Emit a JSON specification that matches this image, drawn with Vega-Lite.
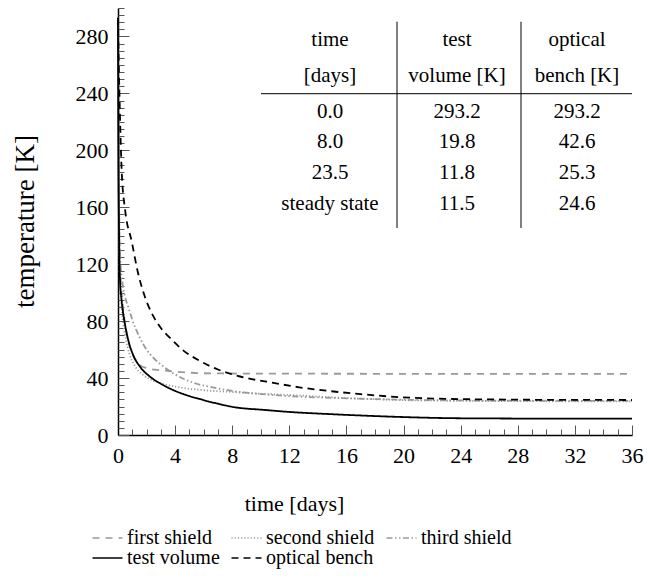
{
  "$schema": "https://vega.github.io/schema/vega-lite/v6.json",
  "width": 514,
  "height": 427,
  "autosize": {"type": "none"},
  "padding": {"left": 118, "top": 8, "right": 15, "bottom": 146},
  "background": "white",
  "config": {
    "font": "Liberation Serif",
    "view": {"stroke": null},
    "axis": {"grid": false, "labelFont": "Liberation Serif", "titleFont": "Liberation Serif"},
    "legend": {"labelFont": "Liberation Serif", "titleFont": "Liberation Serif"},
    "text": {"font": "Liberation Serif"}
  },
  "datasets": {
    "curves": [
      {"series": "first shield", "day": 0, "temp": 293.2},
      {"series": "first shield", "day": 0.03, "temp": 200},
      {"series": "first shield", "day": 0.08, "temp": 150},
      {"series": "first shield", "day": 0.15, "temp": 120},
      {"series": "first shield", "day": 0.3, "temp": 95},
      {"series": "first shield", "day": 0.5, "temp": 78},
      {"series": "first shield", "day": 0.8, "temp": 63},
      {"series": "first shield", "day": 1.1, "temp": 55},
      {"series": "first shield", "day": 1.5, "temp": 49.5},
      {"series": "first shield", "day": 2, "temp": 47},
      {"series": "first shield", "day": 3, "temp": 45.5},
      {"series": "first shield", "day": 4, "temp": 44.5},
      {"series": "first shield", "day": 5, "temp": 43.8},
      {"series": "first shield", "day": 6, "temp": 43.4},
      {"series": "first shield", "day": 8, "temp": 43.2},
      {"series": "first shield", "day": 12, "temp": 43.1},
      {"series": "first shield", "day": 20, "temp": 43},
      {"series": "first shield", "day": 36, "temp": 43},
      {"series": "second shield", "day": 0, "temp": 293.2},
      {"series": "second shield", "day": 0.03, "temp": 190},
      {"series": "second shield", "day": 0.08, "temp": 140},
      {"series": "second shield", "day": 0.15, "temp": 110},
      {"series": "second shield", "day": 0.3, "temp": 85},
      {"series": "second shield", "day": 0.5, "temp": 70},
      {"series": "second shield", "day": 0.8, "temp": 57},
      {"series": "second shield", "day": 1.1, "temp": 50},
      {"series": "second shield", "day": 1.4, "temp": 45.5},
      {"series": "second shield", "day": 1.8, "temp": 42},
      {"series": "second shield", "day": 2.5, "temp": 38},
      {"series": "second shield", "day": 3.3, "temp": 35.5},
      {"series": "second shield", "day": 4.3, "temp": 33.5},
      {"series": "second shield", "day": 6, "temp": 31.5},
      {"series": "second shield", "day": 8, "temp": 30.2},
      {"series": "second shield", "day": 10.4, "temp": 28.8},
      {"series": "second shield", "day": 12.7, "temp": 27.8},
      {"series": "second shield", "day": 15, "temp": 26.4},
      {"series": "second shield", "day": 17.5, "temp": 25.3},
      {"series": "second shield", "day": 20, "temp": 24.5},
      {"series": "second shield", "day": 24, "temp": 24},
      {"series": "second shield", "day": 28, "temp": 23.8},
      {"series": "second shield", "day": 36, "temp": 23.6},
      {"series": "third shield", "day": 0, "temp": 293.2},
      {"series": "third shield", "day": 0.03, "temp": 220},
      {"series": "third shield", "day": 0.07, "temp": 170},
      {"series": "third shield", "day": 0.14, "temp": 125},
      {"series": "third shield", "day": 0.3, "temp": 108},
      {"series": "third shield", "day": 0.5, "temp": 97},
      {"series": "third shield", "day": 0.75, "temp": 89},
      {"series": "third shield", "day": 1, "temp": 81},
      {"series": "third shield", "day": 1.5, "temp": 69},
      {"series": "third shield", "day": 2, "temp": 60},
      {"series": "third shield", "day": 2.5, "temp": 54},
      {"series": "third shield", "day": 3.2, "temp": 48},
      {"series": "third shield", "day": 4, "temp": 42.5},
      {"series": "third shield", "day": 4.8, "temp": 38.6},
      {"series": "third shield", "day": 5.5, "temp": 36},
      {"series": "third shield", "day": 6.4, "temp": 33.9},
      {"series": "third shield", "day": 8, "temp": 31},
      {"series": "third shield", "day": 9.2, "temp": 29.5},
      {"series": "third shield", "day": 11, "temp": 28},
      {"series": "third shield", "day": 13, "temp": 26.8},
      {"series": "third shield", "day": 16, "temp": 25.8},
      {"series": "third shield", "day": 20, "temp": 24.8},
      {"series": "third shield", "day": 24, "temp": 24.3},
      {"series": "third shield", "day": 28, "temp": 24.1},
      {"series": "third shield", "day": 36, "temp": 24},
      {"series": "test volume", "day": 0, "temp": 293.2},
      {"series": "test volume", "day": 0.03, "temp": 200},
      {"series": "test volume", "day": 0.07, "temp": 145},
      {"series": "test volume", "day": 0.14, "temp": 109},
      {"series": "test volume", "day": 0.25, "temp": 95},
      {"series": "test volume", "day": 0.37, "temp": 85},
      {"series": "test volume", "day": 0.5, "temp": 77},
      {"series": "test volume", "day": 0.72, "temp": 66.6},
      {"series": "test volume", "day": 1.07, "temp": 56},
      {"series": "test volume", "day": 1.54, "temp": 48},
      {"series": "test volume", "day": 2.24, "temp": 41},
      {"series": "test volume", "day": 3, "temp": 36},
      {"series": "test volume", "day": 4, "temp": 31},
      {"series": "test volume", "day": 4.8, "temp": 28},
      {"series": "test volume", "day": 6, "temp": 24.5},
      {"series": "test volume", "day": 6.9, "temp": 22.2},
      {"series": "test volume", "day": 8, "temp": 19.8},
      {"series": "test volume", "day": 10.4, "temp": 17.5},
      {"series": "test volume", "day": 12, "temp": 16.2},
      {"series": "test volume", "day": 14.8, "temp": 14.7},
      {"series": "test volume", "day": 18, "temp": 13.3},
      {"series": "test volume", "day": 20, "temp": 12.6},
      {"series": "test volume", "day": 23.5, "temp": 11.8},
      {"series": "test volume", "day": 27, "temp": 11.6},
      {"series": "test volume", "day": 30, "temp": 11.5},
      {"series": "test volume", "day": 36, "temp": 11.5},
      {"series": "optical bench", "day": 0, "temp": 293.2},
      {"series": "optical bench", "day": 0.05, "temp": 262},
      {"series": "optical bench", "day": 0.1, "temp": 240},
      {"series": "optical bench", "day": 0.19, "temp": 205},
      {"series": "optical bench", "day": 0.26, "temp": 185},
      {"series": "optical bench", "day": 0.5, "temp": 158},
      {"series": "optical bench", "day": 0.96, "temp": 136},
      {"series": "optical bench", "day": 1.4, "temp": 114},
      {"series": "optical bench", "day": 1.82, "temp": 99},
      {"series": "optical bench", "day": 2.5, "temp": 83},
      {"series": "optical bench", "day": 2.94, "temp": 76},
      {"series": "optical bench", "day": 3.87, "temp": 66},
      {"series": "optical bench", "day": 4.5, "temp": 60},
      {"series": "optical bench", "day": 5.74, "temp": 52},
      {"series": "optical bench", "day": 7, "temp": 46},
      {"series": "optical bench", "day": 8, "temp": 42.6},
      {"series": "optical bench", "day": 9, "temp": 40},
      {"series": "optical bench", "day": 10.4, "temp": 37.5},
      {"series": "optical bench", "day": 12.7, "temp": 33.5},
      {"series": "optical bench", "day": 14.8, "temp": 30.9},
      {"series": "optical bench", "day": 17, "temp": 28.7},
      {"series": "optical bench", "day": 19.7, "temp": 26.6},
      {"series": "optical bench", "day": 23.5, "temp": 25.3},
      {"series": "optical bench", "day": 27, "temp": 24.9},
      {"series": "optical bench", "day": 30, "temp": 24.7},
      {"series": "optical bench", "day": 36, "temp": 24.6}
    ],
    "table": [
      {"row": 0, "col": 0, "label": "time"},
      {"row": 0, "col": 1, "label": "test"},
      {"row": 0, "col": 2, "label": "optical"},
      {"row": 1, "col": 0, "label": "[days]"},
      {"row": 1, "col": 1, "label": "volume [K]"},
      {"row": 1, "col": 2, "label": "bench [K]"},
      {"row": 2, "col": 0, "label": "0.0"},
      {"row": 2, "col": 1, "label": "293.2"},
      {"row": 2, "col": 2, "label": "293.2"},
      {"row": 3, "col": 0, "label": "8.0"},
      {"row": 3, "col": 1, "label": "19.8"},
      {"row": 3, "col": 2, "label": "42.6"},
      {"row": 4, "col": 0, "label": "23.5"},
      {"row": 4, "col": 1, "label": "11.8"},
      {"row": 4, "col": 2, "label": "25.3"},
      {"row": 5, "col": 0, "label": "steady state"},
      {"row": 5, "col": 1, "label": "11.5"},
      {"row": 5, "col": 2, "label": "24.6"}
    ]
  },
  "layer": [
    {
      "data": {"name": "curves"},
      "layer": [
        {
          "mark": {"type": "line", "strokeWidth": 1.8, "interpolate": "monotone"},
          "encoding": {
            "x": {
              "field": "day", "type": "quantitative",
              "scale": {"domain": [0, 36], "nice": false, "zero": false},
              "axis": {
                "orient": "bottom", "values": [0, 4, 8, 12, 16, 20, 24, 28, 32, 36],
                "tickSize": -10, "tickColor": "#555555", "tickWidth": 1,
                "domainColor": "#000000", "domainWidth": 1.5,
                "labelFont": "Liberation Serif", "titleFont": "Liberation Serif",
                "labelFontSize": 22, "labelColor": "#000000", "labelPadding": 20,
                "labelFlush": false, "labelOverlap": false,
                "title": "time [days]", "titleFontSize": 22, "titleFontWeight": "normal",
                "titleColor": "#000000", "titleX": 176, "titleY": 68,
                "titleBaseline": "middle", "titleAlign": "center"
              }
            },
            "y": {
              "field": "temp", "type": "quantitative",
              "scale": {"domain": [0, 300], "nice": false, "zero": false},
              "axis": {
                "orient": "left", "values": [0, 40, 80, 120, 160, 200, 240, 280],
                "tickSize": -11, "tickColor": "#555555", "tickWidth": 1,
                "domainColor": "#000000", "domainWidth": 1.5,
                "labelFont": "Liberation Serif", "titleFont": "Liberation Serif",
                "labelFontSize": 22, "labelColor": "#000000", "labelPadding": 21,
                "labelFlush": false, "labelOverlap": false,
                "title": "temperature [K]", "titleFontSize": 27, "titleFontWeight": "normal",
                "titleColor": "#000000", "titleX": -93, "titleY": 213,
                "titleBaseline": "middle", "titleAlign": "center", "titleAngle": -90
              }
            },
            "color": {
              "field": "series", "type": "nominal",
              "scale": {
                "domain": ["first shield", "second shield", "third shield", "test volume", "optical bench"],
                "range": ["#999999", "#999999", "#999999", "#000000", "#000000"]
              },
              "legend": {
                "orient": "none", "legendX": -28, "legendY": 520, "direction": "horizontal",
                "columns": 3, "title": null, "symbolType": "M-1,0H3", "symbolSize": 225,
                "symbolStrokeWidth": 1.5, "labelFont": "Liberation Serif", "labelFontSize": 20, "labelColor": "#000000",
                "labelOffset": 17, "columnPadding": 8, "rowPadding": 0, "labelLimit": 0
              }
            },
            "strokeDash": {
              "field": "series", "type": "nominal",
              "scale": {
                "domain": ["first shield", "second shield", "third shield", "test volume", "optical bench"],
                "range": [[7, 6], [1.2, 2], [6, 2.5, 1.5, 2.5, 1.5, 2.5], [1, 0], [7, 5]]
              },
              "legend": {
                "orient": "none", "legendX": -28, "legendY": 520, "direction": "horizontal",
                "columns": 3, "title": null, "symbolType": "M-1,0H3", "symbolSize": 225,
                "symbolStrokeWidth": 1.5, "labelFont": "Liberation Serif", "labelFontSize": 20, "labelColor": "#000000",
                "labelOffset": 17, "columnPadding": 8, "rowPadding": 0, "labelLimit": 0
              }
            }
          }
        },
        {
          "mark": {"type": "line", "opacity": 0},
          "encoding": {
            "detail": {"field": "series"},
            "x": {
              "field": "day", "type": "quantitative",
              "scale": {"domain": [0, 36], "nice": false, "zero": false},
              "axis": {
                "orient": "bottom",
                "values": [0,1,2,3,4,5,6,7,8,9,10,11,12,13,14,15,16,17,18,19,20,21,22,23,24,25,26,27,28,29,30,31,32,33,34,35,36],
                "tickSize": -6, "tickColor": "#555555", "tickWidth": 1,
                "labels": false, "domain": false, "title": null
              }
            },
            "y": {
              "field": "temp", "type": "quantitative",
              "scale": {"domain": [0, 300], "nice": false, "zero": false},
              "axis": {
                "orient": "left",
                "values": [0,5,10,15,20,25,30,35,40,45,50,55,60,65,70,75,80,85,90,95,100,105,110,115,120,125,130,135,140,145,150,155,160,165,170,175,180,185,190,195,200,205,210,215,220,225,230,235,240,245,250,255,260,265,270,275,280,285,290,295,300],
                "tickSize": -6, "tickColor": "#555555", "tickWidth": 1,
                "labels": false, "domain": false, "title": null
              }
            }
          }
        }
      ],
      "resolve": {"axis": {"x": "independent", "y": "independent"}}
    },
    {
      "layer": [
        {
          "data": {"name": "table"},
          "mark": {"type": "text", "font": "Liberation Serif", "fontSize": 21, "align": "center", "baseline": "middle", "color": "#000000"},
          "encoding": {
            "x": {"field": "col", "type": "quantitative", "axis": null,
                  "scale": {"domain": [-0.5, 0, 0.5, 1, 1.5, 2, 2.5], "range": [143, 212, 279, 339, 403, 459, 514], "nice": false, "zero": false}},
            "y": {"field": "row", "type": "quantitative", "axis": null,
                  "scale": {"domain": [-0.5, 0, 1, 1.5, 2, 5, 5.75], "range": [13.7, 32, 68, 85.7, 103.7, 196, 220], "nice": false, "zero": false}},
            "text": {"field": "label"}
          }
        },
        {
          "data": {"values": [{}]},
          "mark": {"type": "rule", "color": "#000000", "strokeWidth": 1},
          "encoding": {
            "x": {"datum": -0.5, "type": "quantitative", "axis": null,
                  "scale": {"domain": [-0.5, 0, 0.5, 1, 1.5, 2, 2.5], "range": [143, 212, 279, 339, 403, 459, 514], "nice": false, "zero": false}},
            "x2": {"datum": 2.5},
            "y": {"datum": 1.5, "type": "quantitative", "axis": null,
                  "scale": {"domain": [-0.5, 0, 1, 1.5, 2, 5, 5.75], "range": [13.7, 32, 68, 85.7, 103.7, 196, 220], "nice": false, "zero": false}}
          }
        },
        {
          "data": {"values": [{}]},
          "mark": {"type": "rule", "color": "#000000", "strokeWidth": 1},
          "encoding": {
            "x": {"datum": 0.5, "type": "quantitative", "axis": null,
                  "scale": {"domain": [-0.5, 0, 0.5, 1, 1.5, 2, 2.5], "range": [143, 212, 279, 339, 403, 459, 514], "nice": false, "zero": false}},
            "y": {"datum": -0.5, "type": "quantitative", "axis": null,
                  "scale": {"domain": [-0.5, 0, 1, 1.5, 2, 5, 5.75], "range": [13.7, 32, 68, 85.7, 103.7, 196, 220], "nice": false, "zero": false}},
            "y2": {"datum": 5.75}
          }
        },
        {
          "data": {"values": [{}]},
          "mark": {"type": "rule", "color": "#000000", "strokeWidth": 1},
          "encoding": {
            "x": {"datum": 1.5, "type": "quantitative", "axis": null,
                  "scale": {"domain": [-0.5, 0, 0.5, 1, 1.5, 2, 2.5], "range": [143, 212, 279, 339, 403, 459, 514], "nice": false, "zero": false}},
            "y": {"datum": -0.5, "type": "quantitative", "axis": null,
                  "scale": {"domain": [-0.5, 0, 1, 1.5, 2, 5, 5.75], "range": [13.7, 32, 68, 85.7, 103.7, 196, 220], "nice": false, "zero": false}},
            "y2": {"datum": 5.75}
          }
        }
      ]
    }
  ],
  "resolve": {"scale": {"x": "independent", "y": "independent"}}
}
